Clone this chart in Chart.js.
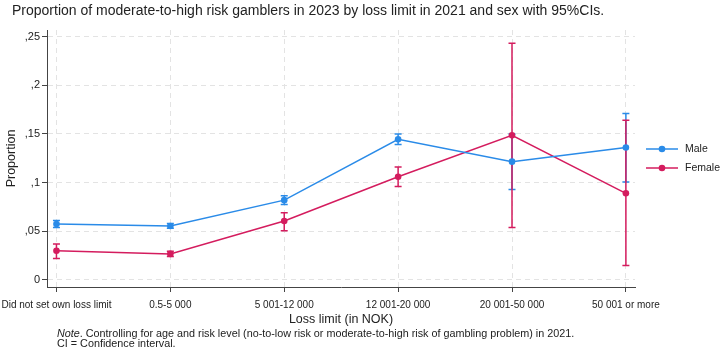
<!DOCTYPE html>
<html>
<head>
<meta charset="utf-8">
<script src="https://cdn.jsdelivr.net/npm/chart.js@4/dist/chart.umd.min.js"></script>
<style>
  html, body { margin: 0; padding: 0; background: #fff; }
  #wrap { position: relative; width: 720px; height: 351px; overflow: hidden; font-family: "Liberation Sans", Arial, sans-serif; }
  #chart { position: absolute; left: 0; top: 0; }
  #title { position: absolute; left: 12px; top: 2px; font-size: 14px; color: #222; white-space: nowrap; }
  #note { position: absolute; left: 57px; top: 329px; font-size: 10.8px; line-height: 9.5px; color: #222; white-space: nowrap; }
</style>
</head>
<body>
<div id="wrap">
  <canvas id="chart" width="720" height="351"></canvas>
  <div id="title">Proportion of moderate-to-high risk gamblers in 2023 by loss limit in 2021 and sex with 95%CIs.</div>
  <div id="note"><i>Note</i>. Controlling for age and risk level (no-to-low risk or moderate-to-high risk of gambling problem) in 2021.<br>CI = Confidence interval.</div>
</div>
<script>
const categories = ["Did not set own loss limit", "0.5-5 000", "5 001-12 000", "12 001-20 000", "20 001-50 000", "50 001 or more"];
const maleValues = [0.0575, 0.0555, 0.082, 0.1445, 0.1215, 0.136];
const maleLow    = [0.054, 0.053, 0.0775, 0.139, 0.093, 0.1005];
const maleHigh   = [0.061, 0.058, 0.0865, 0.150, 0.150, 0.171];
const femaleValues = [0.030, 0.0268, 0.0605, 0.106, 0.1485, 0.089];
const femaleLow    = [0.022, 0.024, 0.0505, 0.096, 0.054, 0.015];
const femaleHigh   = [0.037, 0.0295, 0.069, 0.116, 0.243, 0.164];
const yTicks = [0, 0.05, 0.1, 0.15, 0.2, 0.25];
const yTickLabels = ["0", ",05", ",1", ",15", ",2", ",25"];
const seriesNames = ["Male", "Female"];

const BLUE = "#2a8be8";
const RED = "#d41c5e";

const errorBars = {
  id: "errorBars",
  beforeDatasetsDraw(chart) {
    const ctx = chart.ctx, xs = chart.scales.x, ys = chart.scales.y;
    const sets = [[maleLow, maleHigh, BLUE], [femaleLow, femaleHigh, RED]];
    ctx.save();
    ctx.lineWidth = 1.5;
    sets.forEach(([lo, hi, col]) => {
      ctx.strokeStyle = col;
      lo.forEach((l, i) => {
        const x = xs.getPixelForValue(i);
        const y1 = ys.getPixelForValue(l), y2 = ys.getPixelForValue(hi[i]);
        ctx.beginPath();
        ctx.moveTo(x, y1); ctx.lineTo(x, y2);
        ctx.moveTo(x - 3.5, y1); ctx.lineTo(x + 3.5, y1);
        ctx.moveTo(x - 3.5, y2); ctx.lineTo(x + 3.5, y2);
        ctx.stroke();
      });
    });
    ctx.restore();
  }
};

const legendPlugin = {
  id: "customLegend",
  afterDraw(chart) {
    const ctx = chart.ctx;
    const items = [[seriesNames[0], BLUE, 149], [seriesNames[1], RED, 168]];
    ctx.save();
    items.forEach(([name, col, y]) => {
      ctx.strokeStyle = col; ctx.lineWidth = 1.5;
      ctx.beginPath(); ctx.moveTo(646, y); ctx.lineTo(678, y); ctx.stroke();
      ctx.fillStyle = col;
      ctx.beginPath(); ctx.arc(662, y, 3.3, 0, Math.PI * 2); ctx.fill();
      ctx.fillStyle = "#222";
      ctx.font = '10.5px "Liberation Sans", Arial, sans-serif';
      ctx.textBaseline = "middle";
      ctx.fillText(name, 685, y + 0.5);
    });
    ctx.restore();
  }
};

const mk = (vals) => vals.map((v, i) => ({ x: i, y: v }));

new Chart(document.getElementById("chart"), {
  type: "line",
  data: {
    datasets: [
      { label: seriesNames[0], data: mk(maleValues), borderColor: BLUE, backgroundColor: BLUE, borderWidth: 1.5, pointRadius: 3.3, pointHoverRadius: 3.3, pointBorderWidth: 0, tension: 0 },
      { label: seriesNames[1], data: mk(femaleValues), borderColor: RED, backgroundColor: RED, borderWidth: 1.5, pointRadius: 3.3, pointHoverRadius: 3.3, pointBorderWidth: 0, tension: 0 }
    ]
  },
  options: {
    responsive: false,
    animation: false,
    events: [],
    layout: { padding: { left: 0, right: 85, top: 30, bottom: 22 } },
    plugins: { legend: { display: false }, tooltip: { enabled: false }, title: { display: false } },
    scales: {
      x: {
        type: "linear",
        min: -0.083,
        max: 5.08,
        afterBuildTicks: (s) => { s.ticks = categories.map((c, i) => ({ value: i })); },
        afterFit: (s) => { s.height = 42; s.paddingLeft = 0; s.paddingRight = 0; },
        ticks: {
          callback: (v) => categories[v],
          autoSkip: false, maxRotation: 0, padding: 7,
          color: "#222",
          font: { family: '"Liberation Sans", Arial, sans-serif', size: 10 }
        },
        grid: { color: "#e3e3e3", lineWidth: 1, tickColor: "#444", tickLength: 5, tickBorderDash: [] },
        border: { display: true, color: "#444", width: 1, dash: [5, 4] },
        title: { display: true, text: "Loss limit (in NOK)", color: "#222", padding: { top: 3, bottom: 2 }, font: { family: '"Liberation Sans", Arial, sans-serif', size: 12.5 } }
      },
      y: {
        min: -0.0072,
        max: 0.2567,
        afterBuildTicks: (s) => { s.ticks = yTicks.map(v => ({ value: v })); },
        afterFit: (s) => { s.width = 47; s.paddingTop = 0; s.paddingBottom = 0; },
        ticks: {
          callback: (v) => yTickLabels[yTicks.indexOf(v)],
          padding: 2,
          color: "#222",
          font: { family: '"Liberation Sans", Arial, sans-serif', size: 11 }
        },
        grid: { color: "#e3e3e3", lineWidth: 1, tickColor: "#444", tickLength: 5, tickBorderDash: [] },
        border: { display: true, color: "#444", width: 1, dash: [5, 4] },
        title: { display: true, text: "Proportion", color: "#222", padding: { top: 4, bottom: 2 }, font: { family: '"Liberation Sans", Arial, sans-serif', size: 12.5 } }
      }
    }
  },
  plugins: [errorBars, legendPlugin]
});
</script>
</body>
</html>
